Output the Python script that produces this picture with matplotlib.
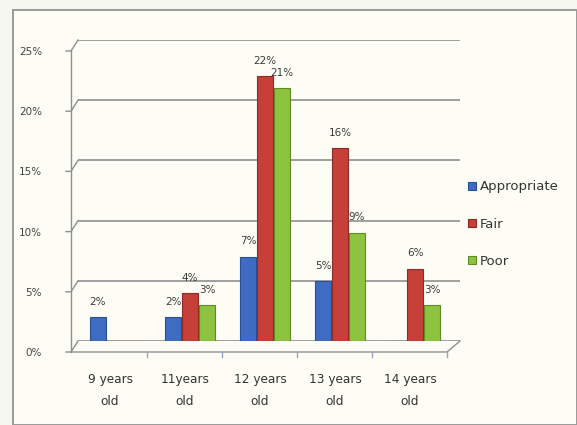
import matplotlib
matplotlib.use("Agg")
import matplotlib.pyplot as plt
from matplotlib.lines import Line2D
from matplotlib.patches import Rectangle
from matplotlib.transforms import ScaledTranslation
import numpy as np

categories = ["9 years\nold", "11years\nold", "12 years\nold", "13 years\nold", "14 years\nold"]
series_names = ["Appropriate", "Fair", "Poor"]
appropriate = [2, 2, 7, 5, 0]
fair = [0, 4, 22, 16, 6]
poor = [0, 3, 21, 9, 3]
series_values = [appropriate, fair, poor]
colors = ["#3d6cc2", "#c63f38", "#8dc33f"]
edge_colors = ["#2a4f94", "#8f2a25", "#5f8a25"]
yticks = [0, 5, 10, 15, 20, 25]
ytick_labels = ["0%", "5%", "10%", "15%", "20%", "25%"]

W, H = 577, 425
fig = plt.figure(figsize=(W / 100, H / 100), dpi=100)
fig.patch.set_facecolor("#f7f7f2")

# page frame
fig.add_artist(Rectangle((13 / W, 0), 1 - 13 / W, 1 - 10 / H, transform=fig.transFigure,
                         facecolor="#fdfdf6", edgecolor="#9a9a9a", linewidth=1.4, zorder=0))

# back wall axes
left, right, bottom, top = 78, 460, 341, 40
ax = fig.add_axes([left / W, 1 - bottom / H, (right - left) / W, (bottom - top) / H])
ax.set_facecolor("none")
ax.set_ylim(0, 25)
px_per_unit = 75.0
ax.set_xlim((left - 115) / px_per_unit, (right - 115) / px_per_unit)

ax.set_yticks(yticks)
ax.yaxis.grid(True, color="#858585", linewidth=1.1)
ax.set_axisbelow(True)
for s in ax.spines.values():
    s.set_visible(False)

x = np.arange(len(categories))
bw = 16 / px_per_unit
off = 17 / px_per_unit
for i, (name, vals) in enumerate(zip(series_names, series_values)):
    pos = x + (i - 1) * off
    ax.bar(pos, vals, width=bw, color=colors[i], edgecolor=edge_colors[i],
           linewidth=0.8, label=name, zorder=3)
    for p, v in zip(pos, vals):
        if v > 0:
            ax.annotate(f"{v}%", (p, v), xytext=(0, 11), textcoords="offset points",
                        ha="center", va="center", fontsize=7.5, color="#3a3a3a", zorder=4)

# y tick labels shifted down/left (3D front plane)
ax.set_yticklabels(ytick_labels, fontsize=7.5, color="#444444")
ax.tick_params(axis="y", length=0, pad=26)
shift_y = ScaledTranslation(0, -11 / 100, fig.dpi_scale_trans)
for lab in ax.get_yticklabels():
    lab.set_transform(lab.get_transform() + shift_y)

ax.set_xticks(x)
ax.set_xticklabels(categories, fontsize=8.7, color="#333333", linespacing=1.9)
ax.tick_params(axis="x", length=0, pad=23)
shift_x = ScaledTranslation(-5 / 100, 0, fig.dpi_scale_trans)
for lab in ax.get_xticklabels():
    lab.set_transform(lab.get_transform() + shift_x)

# 3D frame decoration: front vertical axis, diagonal ticks, floor
def fpx(px, py):
    return (px / W, 1 - py / H)

line_kw = dict(color="#8f8f8f", linewidth=1.0, transform=fig.transFigure)
fig.add_artist(Line2D(*zip(fpx(71, 352), fpx(71, 50)), **line_kw))
for v in yticks:
    yg = ax.transData.transform((0, v))[1]
    yg_px = H - yg
    yl_px = yg_px + 11
    fig.add_artist(Line2D(*zip(fpx(66, yl_px), fpx(71, yl_px), fpx(left, yg_px)), **line_kw))
fig.add_artist(Line2D(*zip(fpx(71, 352), fpx(447, 352), fpx(right, 341)), **line_kw))
for k in range(len(categories)):
    xb = ax.transData.transform((k + 0.5, 0))[0] - 6
    fig.add_artist(Line2D(*zip(fpx(xb, 352), fpx(xb, 357)), color="#9aa3c0", linewidth=1.0,
                          transform=fig.transFigure))

leg = fig.legend(loc="upper left", bbox_to_anchor=(463 / W, 1 - 175 / H), frameon=False,
                 fontsize=9.5, handlelength=0.55, handleheight=0.55, handletextpad=0.35,
                 labelspacing=1.85, borderaxespad=0)
for t in leg.get_texts():
    t.set_color("#333333")

fig.savefig("out.png", dpi=100, facecolor=fig.get_facecolor())
